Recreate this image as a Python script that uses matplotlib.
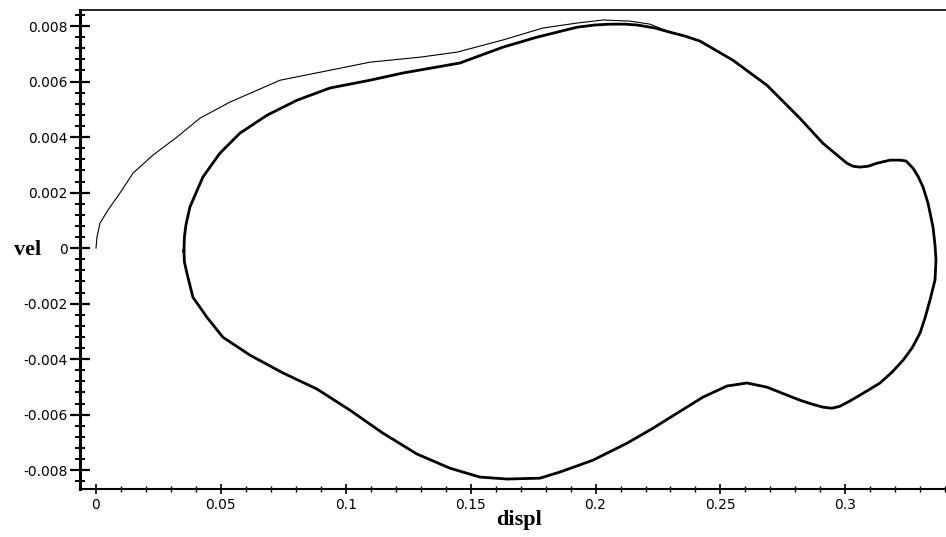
import matplotlib
matplotlib.use("Agg")
import matplotlib.pyplot as plt
from matplotlib.ticker import MultipleLocator, FixedLocator

# Limit cycle (thick), clockwise from leftmost point
cycle_x = [0.0352, 0.0354, 0.0360, 0.0376, 0.0428, 0.0496, 0.0576, 0.0685, 0.0805, 0.0937,
           0.1097, 0.1229, 0.1457, 0.1629, 0.1765, 0.1926, 0.1998, 0.2058, 0.2118, 0.2166,
           0.2238, 0.2298, 0.2358, 0.2418, 0.2550, 0.2686, 0.2818, 0.2910, 0.3006, 0.3030,
           0.3058, 0.3091, 0.3127, 0.3179, 0.3219, 0.3243, 0.3271, 0.3291, 0.3311, 0.3331,
           0.3351, 0.3359, 0.3363, 0.3359, 0.3339, 0.3319, 0.3299, 0.3267, 0.3231, 0.3187,
           0.3139, 0.3099, 0.3058, 0.3018, 0.2978, 0.2946, 0.2910, 0.2866, 0.2818, 0.2686,
           0.2606, 0.2526, 0.2430, 0.2326, 0.2230, 0.2126, 0.1990, 0.1857, 0.1777, 0.1645,
           0.1537, 0.1417, 0.1285, 0.1149, 0.1017, 0.0885, 0.0749, 0.0617, 0.0508, 0.0444,
           0.0388, 0.0364, 0.0354, 0.0352]
cycle_y = [-0.0001, 0.0004, 0.00083, 0.00148, 0.00256, 0.00342, 0.00414, 0.00479, 0.00533, 0.00577,
           0.00605, 0.00631, 0.00667, 0.00724, 0.00760, 0.00796, 0.00804, 0.00807, 0.00807, 0.00804,
           0.00793, 0.00778, 0.00764, 0.00746, 0.00677, 0.00587, 0.00468, 0.00378, 0.00306, 0.00295,
           0.00292, 0.00295, 0.00306, 0.00317, 0.00317, 0.00314, 0.00288, 0.00259, 0.00220, 0.00162,
           0.00076, 0.00011, -0.00043, -0.00115, -0.00187, -0.00252, -0.00306, -0.00360, -0.00404, -0.00447,
           -0.00486, -0.00508, -0.00530, -0.00551, -0.00570, -0.00577, -0.00573, -0.00562, -0.00548, -0.00501,
           -0.00486, -0.00497, -0.00537, -0.00595, -0.00649, -0.00703, -0.00764, -0.00807, -0.00829, -0.00832,
           -0.00825, -0.00793, -0.00742, -0.00667, -0.00584, -0.00508, -0.00450, -0.00386, -0.00321, -0.00249,
           -0.00177, -0.00090, -0.0005, -0.0001]

# Transient from the origin (thin)
trans_x = [0.0, 0.0004, 0.0016, 0.0048, 0.0104, 0.0148, 0.0228, 0.0324, 0.0416, 0.0536,
           0.0737, 0.0937, 0.1097, 0.1297, 0.1445, 0.1629, 0.1789, 0.1926, 0.2030, 0.2138,
           0.2218, 0.2298]
trans_y = [0.0, 0.0004, 0.0009, 0.00137, 0.00209, 0.00270, 0.00335, 0.00400, 0.00468, 0.00526,
           0.00605, 0.00641, 0.00670, 0.00688, 0.00706, 0.00750, 0.00793, 0.00811, 0.00822, 0.00818,
           0.00807, 0.00778]

xticks = [0, 0.05, 0.1, 0.15, 0.2, 0.25, 0.3]
xticklabels = ["0", "0.05", "0.1", "0.15", "0.2", "0.25", "0.3"]
yticks = [-0.008, -0.006, -0.004, -0.002, 0, 0.002, 0.004, 0.006, 0.008]
yticklabels = ["-0.008", "-0.006", "-0.004", "-0.002", "0", "0.002", "0.004", "0.006", "0.008"]

fig = plt.figure(figsize=(9.46, 5.37), dpi=100)
ax = fig.add_axes([80/946, 1-489/537, 1-80/946, (489-10)/537])

ax.plot(trans_x, trans_y, color="black", lw=0.8, solid_joinstyle="round")
ax.plot(cycle_x, cycle_y, color="black", lw=2.0, solid_joinstyle="round")

ax.set_xlim(-0.0064, 0.3403)
ax.set_ylim(-0.00868, 0.00858)

ax.spines["right"].set_visible(False)
ax.spines["left"].set_linewidth(2.2)
ax.spines["bottom"].set_linewidth(1.5)
ax.spines["top"].set_linewidth(1.2)

ax.xaxis.set_major_locator(FixedLocator(xticks))
ax.set_xticklabels(xticklabels)
ax.xaxis.set_minor_locator(MultipleLocator(0.01))
ax.yaxis.set_major_locator(FixedLocator(yticks))
ax.set_yticklabels(yticklabels)
ax.yaxis.set_minor_locator(MultipleLocator(0.0004))

ax.tick_params(axis="y", which="major", direction="inout", length=15, width=1.6, pad=1.5, labelsize=10)
ax.tick_params(axis="y", which="minor", direction="inout", length=7, width=1.4)
ax.tick_params(axis="x", which="major", direction="inout", length=7, width=1.2, pad=3, labelsize=10)
ax.tick_params(axis="x", which="minor", direction="inout", length=4, width=1.0)
ax.tick_params(top=False, right=False, which="both")

for lab in ax.get_xticklabels() + ax.get_yticklabels():
    lab.set_family("DejaVu Sans")

fig.text(28/946, 1-250/537, "vel", family="Liberation Serif", weight="bold",
         fontsize=16, ha="center", va="center")
fig.text(519/946, 1-520/537, "displ", family="Liberation Serif", weight="bold",
         fontsize=16, ha="center", va="center")

fig.savefig("out.png", dpi=100)
